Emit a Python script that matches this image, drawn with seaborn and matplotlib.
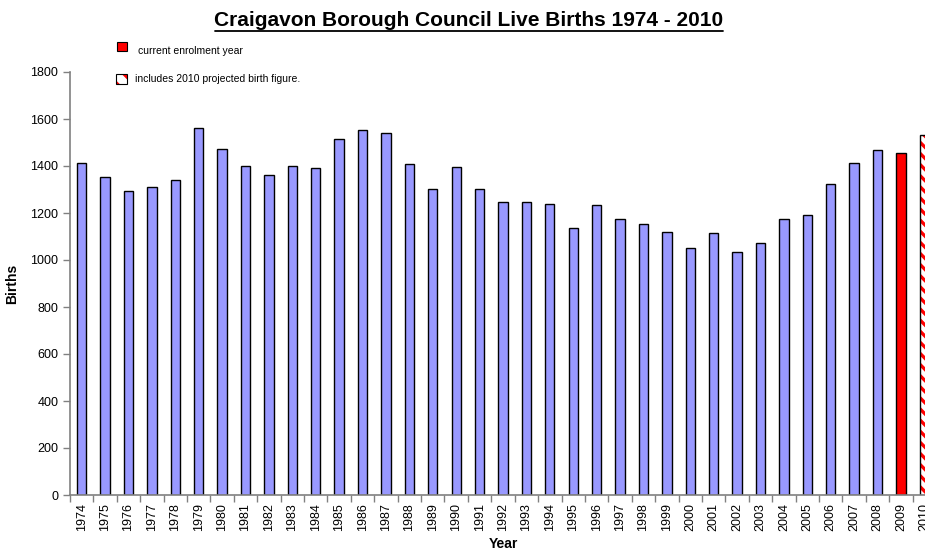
import numpy as np
import matplotlib
matplotlib.use("Agg")
import matplotlib.pyplot as plt
import seaborn as sns
from matplotlib.patches import Rectangle
from matplotlib.lines import Line2D

# Live births per year (2010 includes projected figure)
years = [str(y) for y in range(1974, 2011)]
births = [1414, 1352, 1295, 1309, 1339, 1560, 1471, 1400, 1362, 1399,
          1391, 1514, 1552, 1540, 1410, 1303, 1396, 1303, 1248, 1245,
          1240, 1135, 1234, 1173, 1153, 1121, 1052, 1113, 1035, 1072,
          1176, 1191, 1323, 1414, 1470, 1455, 1532]
bar_colors = ['#9999FF'] * 35 + ['#FF0000', '#FFFFFF']

sns.set_style("white")
plt.rcParams['font.family'] = ['Liberation Sans', 'DejaVu Sans']
plt.rcParams['text.color'] = 'black'
plt.rcParams['axes.labelcolor'] = 'black'
plt.rcParams['xtick.labelcolor'] = 'black'
plt.rcParams['ytick.labelcolor'] = 'black'
plt.rcParams['hatch.linewidth'] = 2.4

fig = plt.figure(figsize=(9.25, 5.55), dpi=100)
ax = fig.add_axes([70 / 925, 60 / 555, 866 / 925, 423 / 555])

sns.barplot(x=years, y=births, hue=years, palette=bar_colors, legend=False,
            width=0.4, edgecolor='black', linewidth=1.0, saturation=1, ax=ax)

# projected bar: red hatch, black outline on top
last = ax.patches[-1]
last.set_edgecolor('#FF0000')
last.set_linewidth(0)
last.set_hatch('\\\\\\')
ax.add_patch(Rectangle(last.get_xy(), last.get_width(), last.get_height(),
                       fill=False, edgecolor='black', linewidth=1.0))

ax.set_xlim(-0.5, 36.5)
ax.set_ylim(0, 1800)
ax.set_yticks(range(0, 1801, 200))
ax.set_xticks(range(len(years)))
ax.set_xticklabels(years, rotation=90, fontsize=9)
ax.set_xticks(np.arange(-0.5, 37, 1), minor=True)
ax.tick_params(axis='x', which='major', length=0, pad=6)
ax.tick_params(axis='x', which='minor', length=5, color='#808080', width=1, bottom=True)
ax.tick_params(axis='y', length=5, color='#808080', width=1, left=True, labelsize=9)
for s in ['top', 'right']:
    ax.spines[s].set_visible(False)
for s in ['left', 'bottom']:
    ax.spines[s].set_color('#808080')
    ax.spines[s].set_linewidth(1.2)

ax.set_xlabel('Year', fontsize=10, fontweight='bold', labelpad=4)
ax.set_ylabel('Births', fontsize=10, fontweight='bold', labelpad=8)

# underlined title
fig.text(469 / 925, 1 - 20 / 555, 'Craigavon Borough Council Live Births 1974 - 2010',
         ha='center', va='center', fontsize=15, fontweight='bold')
fig.add_artist(Line2D([215 / 925, 723 / 925], [1 - 31 / 555, 1 - 31 / 555],
                      color='black', linewidth=1.3))

# legend items
fig.add_artist(Rectangle((117 / 925, 1 - 51 / 555), 10 / 925, 9 / 555,
                         facecolor='#FF0000', edgecolor='black', linewidth=0.8))
fig.text(138 / 925, 1 - 51 / 555, 'current enrolment year', fontsize=7.5, va='center')
fig.add_artist(Rectangle((116 / 925, 1 - 84 / 555), 11 / 925, 10 / 555,
                         facecolor='white', edgecolor='#FF0000', linewidth=0,
                         hatch='\\\\'))
fig.add_artist(Rectangle((116 / 925, 1 - 84 / 555), 11 / 925, 10 / 555,
                         fill=False, edgecolor='black', linewidth=0.8))
fig.text(135 / 925, 1 - 79 / 555, 'includes 2010 projected birth figure.', fontsize=7.5, va='center')

fig.savefig('out.png', dpi=100)
